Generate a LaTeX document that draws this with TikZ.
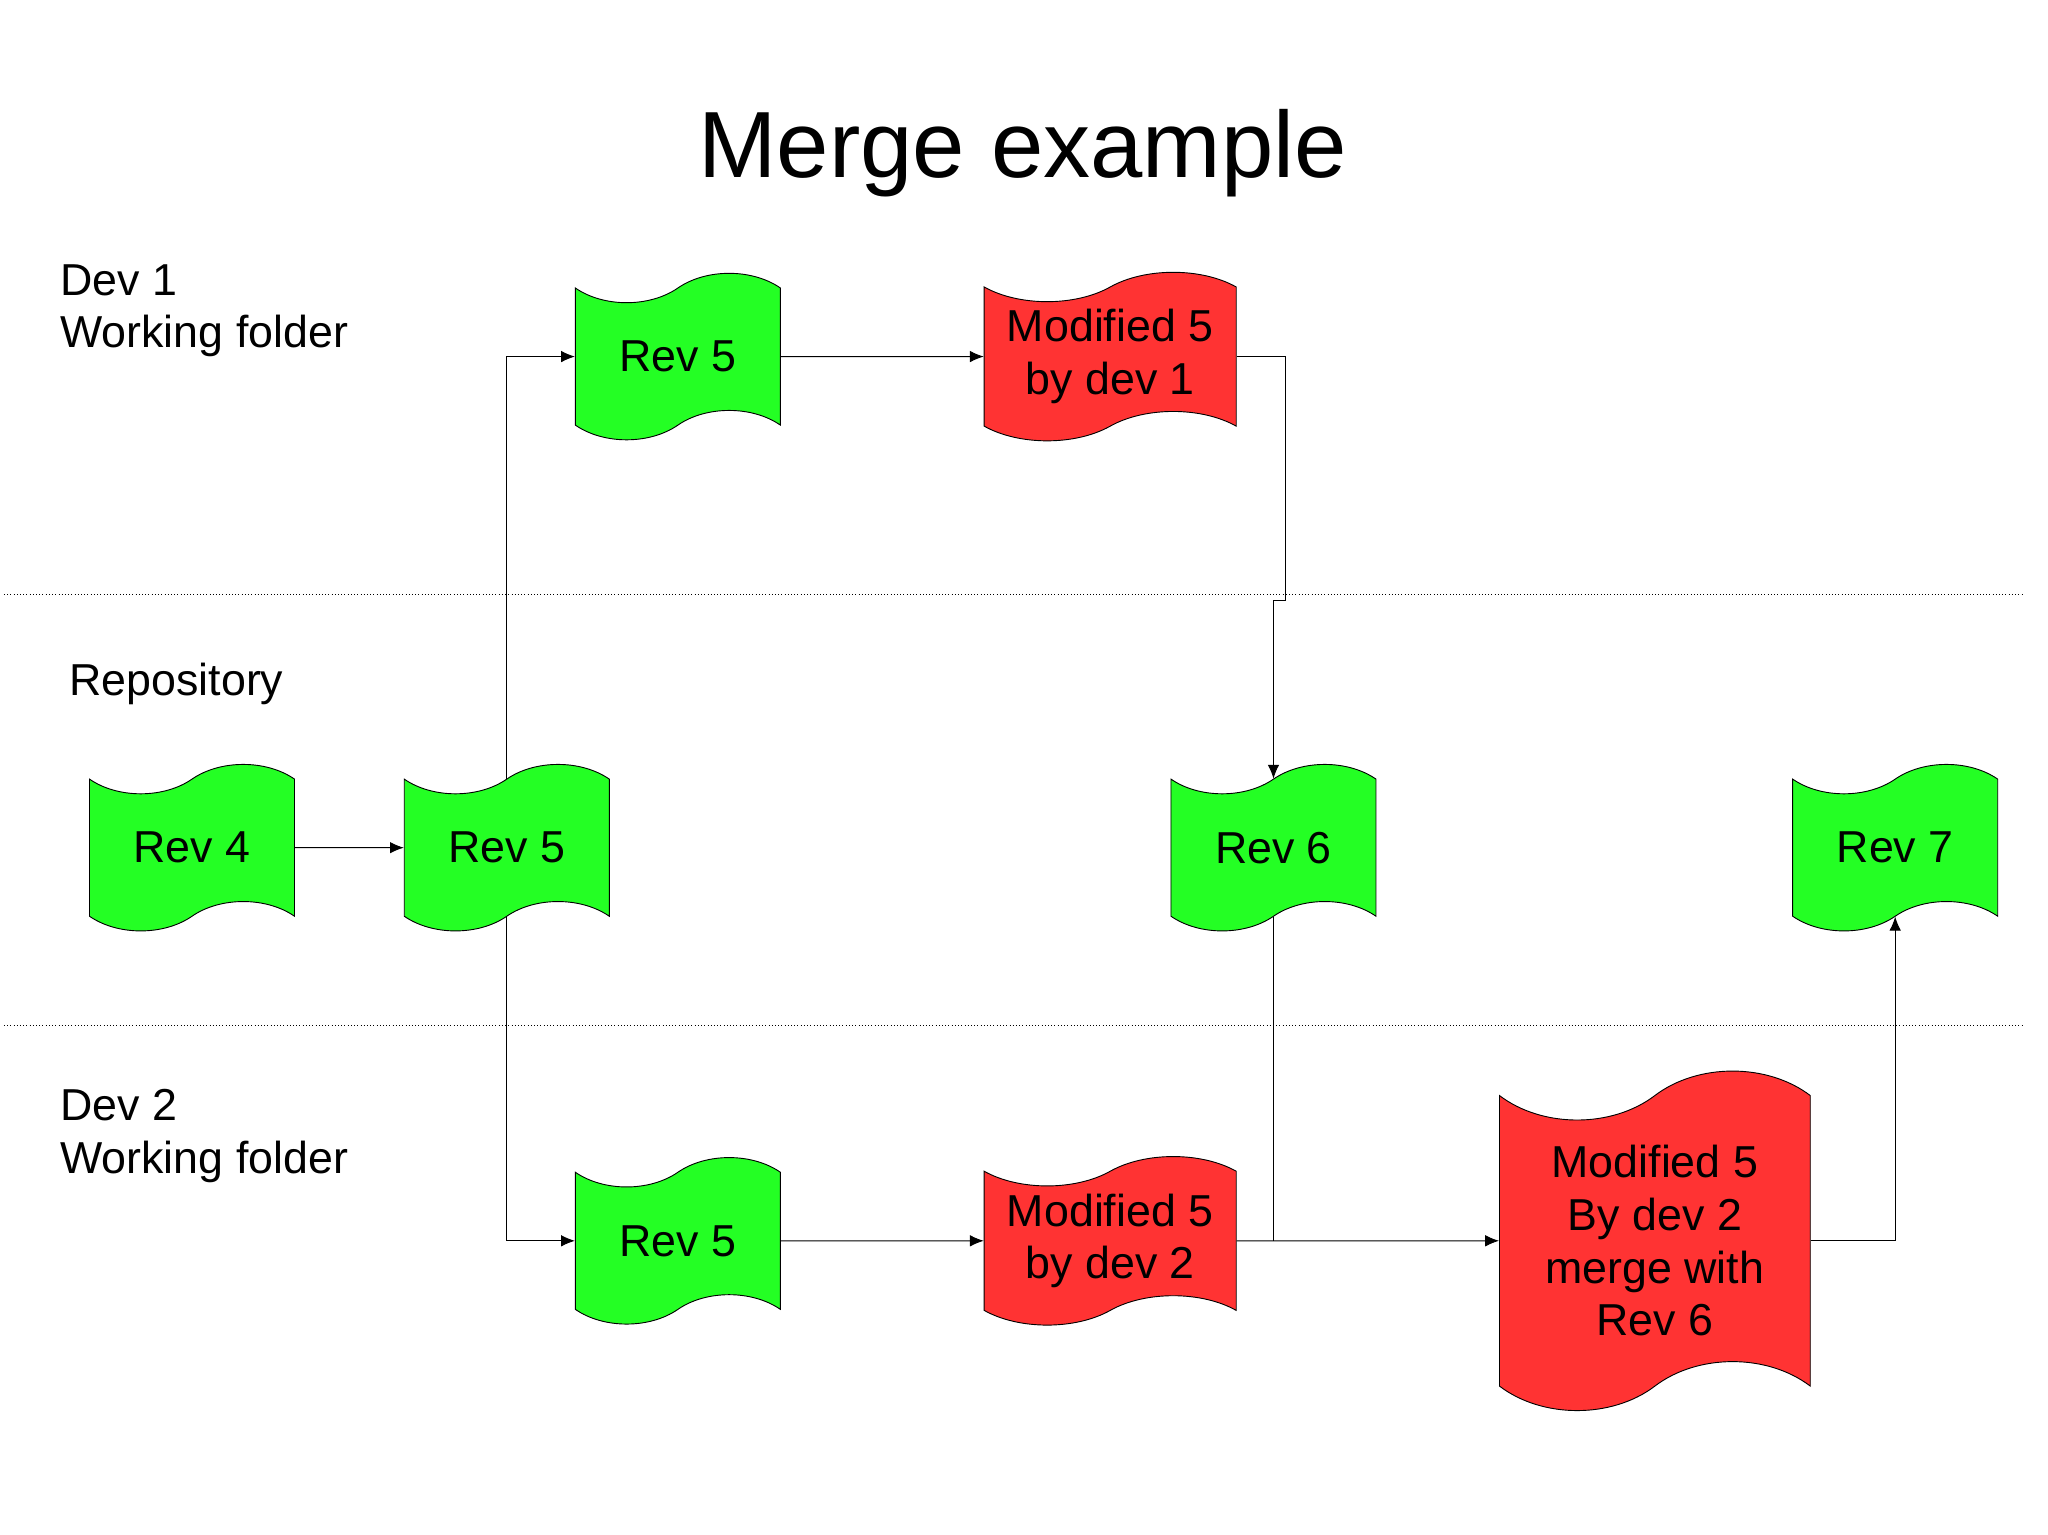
\documentclass[tikz,border=0pt]{standalone}
\usepackage{fontspec}
\setmainfont{Liberation Sans}
\usetikzlibrary{shapes.symbols,arrows.meta}

\definecolor{revgreen}{RGB}{36,255,36}
\definecolor{modred}{RGB}{255,51,51}

\begin{document}
\begin{tikzpicture}[x=0.02cm, y=-0.02cm,
  rev/.style={tape, draw=black, fill=revgreen, tape bend top=in and out,
    tape bend bottom=in and out, tape bend height=0.45cm, minimum width=3.14cm,
    minimum height=2.55cm, align=center, font=\fontsize{19.5}{23}\selectfont},
  mod/.style={rev, fill=modred, minimum width=3.86cm},
  lane/.style={align=left, anchor=west, font=\fontsize{19.5}{23}\selectfont},
  link/.style={-{Latex[length=6pt,width=5pt]}, thin}]

\useasboundingbox (0,0) rectangle (1568,1175);
\fill[white] (0,0) rectangle (1568,1175);

\node at (783,117) {\fontsize{41}{48}\selectfont Merge example};

% lanes
\node[lane] at (40,238) {Dev 1\\Working folder};
\node[lane] at (47,524) {Repository};
\node[lane] at (40,870) {Dev 2\\Working folder};
\draw[densely dotted] (3,455) -- (1548,455);
\draw[densely dotted] (3,785) -- (1548,785);

% -------- nodes -----------
\node[rev] (dev1rev) at (519,273) {Rev 5};
\node[mod] (dev1mod) at (850,273) {Modified 5\\by dev 1};
\node[rev] (rev4) at (147,649) {Rev 4};
\node[rev] (rev5) at (388,649) {Rev 5};
\node[rev] (rev6) at (975,649) {Rev 6};
\node[rev] (rev7) at (1451,649) {Rev 7};
\node[rev] (dev2rev) at (519,950) {Rev 5};
\node[mod] (dev2mod) at (850,950) {Modified 5\\by dev 2};
\node[mod, minimum width=4.76cm, minimum height=5.2cm, tape bend height=0.75cm] (merged) at (1267,950)
  {Modified 5\\By dev 2\\merge with\\Rev 6};

\coordinate (bend1) at (984,460);
\coordinate (join) at (975,950);

% -------- links -----------
\draw[link] (rev4) -- (rev5);
\draw[link] (rev5.north) |- (dev1rev.west);
\draw[link] (dev1rev) -- (dev1mod);
\draw[link] (dev1mod.east) -| (bend1) -| (rev6.north);
\draw[link] (rev5.south) |- (dev2rev.west);
\draw[link] (dev2rev) -- (dev2mod);
\draw[link] (dev2mod) -- (merged);
\draw (rev6.south) -- (join);
\draw[link] (merged.east) -| (rev7.south);
\end{tikzpicture}
\end{document}
